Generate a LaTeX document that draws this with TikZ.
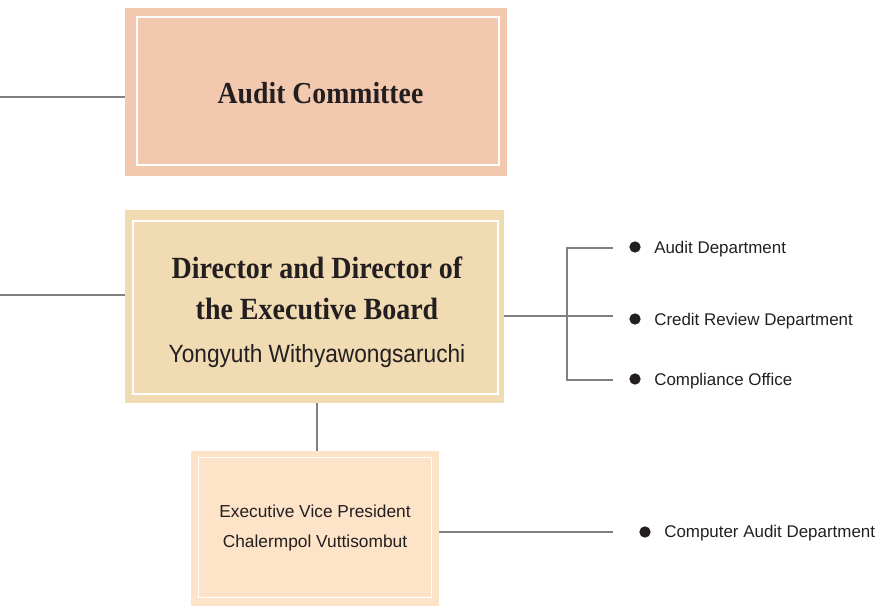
\documentclass[tikz,border=0pt]{standalone}
\usepackage{fontspec}
\setmainfont{Liberation Serif}
\setsansfont{Liberation Sans}
\usetikzlibrary{calc}

\definecolor{acfill}{RGB}{242,201,174}
\definecolor{dirfill}{RGB}{240,219,178}
\definecolor{evpfill}{RGB}{253,227,200}
\definecolor{ink}{RGB}{35,31,32}
\definecolor{linkgray}{RGB}{128,128,128}

\tikzset{
  box/.style={inner sep=0pt},
  frame/.style={draw=white, line width=1.2pt},
  title/.style={inner sep=0pt, align=center, text=ink},
  link/.style={draw=linkgray, line width=0.9pt},
  dot/.style={circle, fill=ink, inner sep=0pt, minimum size=8.5pt},
  item/.style={anchor=base west, inner sep=0pt, text=ink, font=\sffamily\fontsize{12.7}{15}\selectfont},
}

\begin{document}
\begin{tikzpicture}[x=0.75pt,y=0.75pt,yscale=-1,xscale=1]
        \useasboundingbox (0,0) rectangle (881,606);

        % boxes
        \node[box, fill=acfill, minimum width=286.5pt, minimum height=126pt] (ac) at (316,92) {};
        \draw[frame] ($(ac.north west)+(12,9)$) rectangle ($(ac.south east)+(-8,-11)$);
        \node[title, font=\bfseries\fontsize{20.8}{25}\selectfont] (acname) at (320.5,93.5) {\scalebox{1}[1.1]{Audit Committee}};

        \node[box, fill=dirfill, minimum width=284.25pt, minimum height=144.75pt] (dir) at (314.5,306.5) {};
        \draw[frame] ($(dir.north west)+(8,11)$) rectangle ($(dir.south east)+(-6,-9)$);
        \node[title, font=\bfseries\fontsize{21}{30.75}\selectfont] (dirname) at (317,312)
            {\scalebox{1}[1.1]{Director and Director of}\\\scalebox{1}[1.1]{the Executive Board}\\[1.5pt]{\mdseries\sffamily\fontsize{17}{20}\selectfont\scalebox{1}[1.1]{Yongyuth Withyawongsaruchi}}};

        \node[box, fill=evpfill, minimum width=186pt, minimum height=116.25pt] (evp) at (315,528.5) {};
        \draw[frame, line width=1pt] ($(evp.north west)+(8,7)$) rectangle ($(evp.south east)+(-8,-9)$);
        \node[title, font=\sffamily\fontsize{13}{22.5}\selectfont] (evpname) at (315,528)
            {Executive Vice President\\Chalermpol Vuttisombut};

        % links
        \coordinate (acin) at (0,97);
        \coordinate (dirin) at (0,295);
        \coordinate (down) at (317,0);
        \draw[link] (acin) -- (acin -| ac.west);
        \draw[link] (dirin) -- (dirin -| dir.west);
        \draw[link] (down |- dir.south) -- (down |- evp.north);

        \coordinate (fork) at (567,316);
        \coordinate (tipA) at (613,248);
        \coordinate (tipB) at (613,316);
        \coordinate (tipC) at (613,380);
        \coordinate (tipD) at (613,532);
        \draw[link] (fork -| dir.east) -- (tipB);
        \draw[link] (tipA) -| (fork) |- (tipC);
        \draw[link] (tipD -| evp.east) -- (tipD);

        % units
        \node[dot] (dotA) at (635,247) {};
        \node[item] (unitA) at (654,253) {Audit Department};
        \node[dot] (dotB) at (635,319) {};
        \node[item] (unitB) at (654,325) {Credit Review Department};
        \node[dot] (dotC) at (635,379) {};
        \node[item] (unitC) at (654,385) {Compliance Office};
        \node[dot] (dotD) at (645,532) {};
        \node[item] (unitD) at (664,537) {Computer Audit Department};
\end{tikzpicture}
\end{document}
